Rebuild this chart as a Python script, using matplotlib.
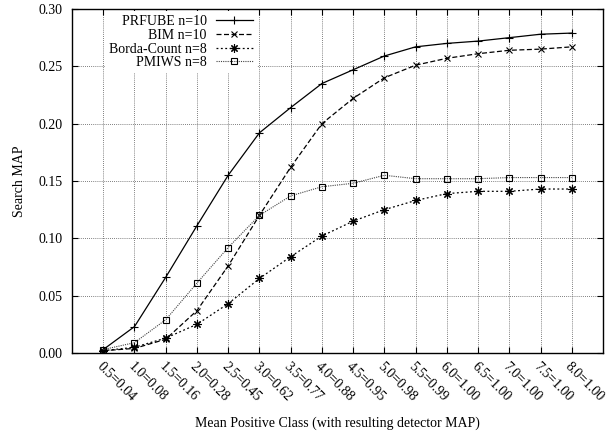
import matplotlib
matplotlib.use("Agg")
import matplotlib.pyplot as plt
import numpy as np

plt.rcParams['font.family'] = ['Liberation Serif', 'DejaVu Serif']

tick_labels = ["0.5=0.04", "1.0=0.08", "1.5=0.16", "2.0=0.28", "2.5=0.45", "3.0=0.62",
               "3.5=0.77", "4.0=0.88", "4.5=0.95", "5.0=0.98", "5.5=0.99", "6.0=1.00",
               "6.5=1.00", "7.0=1.00", "7.5=1.00", "8.0=1.00"]
prfube = [0.003, 0.023, 0.066, 0.111, 0.155, 0.192, 0.214, 0.235, 0.247, 0.259,
          0.267, 0.270, 0.272, 0.275, 0.278, 0.279]
bim = [0.002, 0.004, 0.012, 0.037, 0.076, 0.120, 0.162, 0.200, 0.222, 0.240,
       0.251, 0.257, 0.261, 0.264, 0.265, 0.267]
borda = [0.002, 0.005, 0.013, 0.025, 0.043, 0.065, 0.084, 0.102, 0.115, 0.125,
         0.133, 0.139, 0.141, 0.141, 0.143, 0.143]
pmiws = [0.003, 0.009, 0.029, 0.061, 0.092, 0.120, 0.137, 0.145, 0.148, 0.155,
         0.152, 0.152, 0.152, 0.153, 0.153, 0.153]

x = np.arange(1, len(tick_labels) + 1)

fig = plt.figure(figsize=(6.14, 4.32), dpi=100)
ax = fig.add_axes([72/614, 1 - 353/432, (603-72)/614, (353-9)/432])

ax.plot(x, prfube, color='black', lw=0.9, ls='-', marker='+', ms=6, mew=0.8, label='PRFUBE n=10')
ax.plot(x, bim, color='black', lw=0.9, ls=(0, (4, 2)), marker='x', ms=5, mew=0.8, label='BIM n=10')
ax.plot(x, borda, color='black', lw=0.9, ls=(0, (1.5, 2)), marker=(8, 2, 0), ms=6, mew=0.8, label='Borda-Count n=8')
ax.plot(x, pmiws, color='#444444', lw=0.8, ls=(0, (1, 1)), marker='s', ms=5, mew=0.8,
        mfc='none', mec='black', label='PMIWS n=8')

ax.set_xlim(0, 17)
ax.set_ylim(0, 0.30)
ax.set_xticks(x)
ax.set_xticklabels(tick_labels, rotation=-45, ha='left', rotation_mode='anchor', fontsize=10)
ax.set_yticks(np.arange(0, 0.301, 0.05))
ax.set_yticklabels([f"{v:.2f}" for v in np.arange(0, 0.301, 0.05)], fontsize=10)
ax.tick_params(direction='in', top=True, right=True, length=4, width=0.8)
ax.tick_params(axis='x', pad=5)
ax.tick_params(axis='y', pad=6.5)
ax.grid(True, color='#555555', ls=(0, (1, 1.5)), lw=0.6)
for s in ax.spines.values():
    s.set_linewidth(1.0)

ax.set_ylabel("Search MAP", fontsize=10, labelpad=9)
ax.set_xlabel("Mean Positive Class (with resulting detector MAP)", fontsize=10, labelpad=9)

leg = ax.legend(loc='upper right', bbox_to_anchor=((257-72)/531, 0.994), frameon=True, markerfirst=False,
                fontsize=10, handlelength=2.66, labelspacing=0.05, borderpad=0.3,
                handletextpad=0.65, borderaxespad=0.0, fancybox=False)
leg.get_frame().set_facecolor('white')
leg.get_frame().set_edgecolor('none')
leg.get_frame().set_alpha(1)

fig.savefig("out.png", dpi=100)
